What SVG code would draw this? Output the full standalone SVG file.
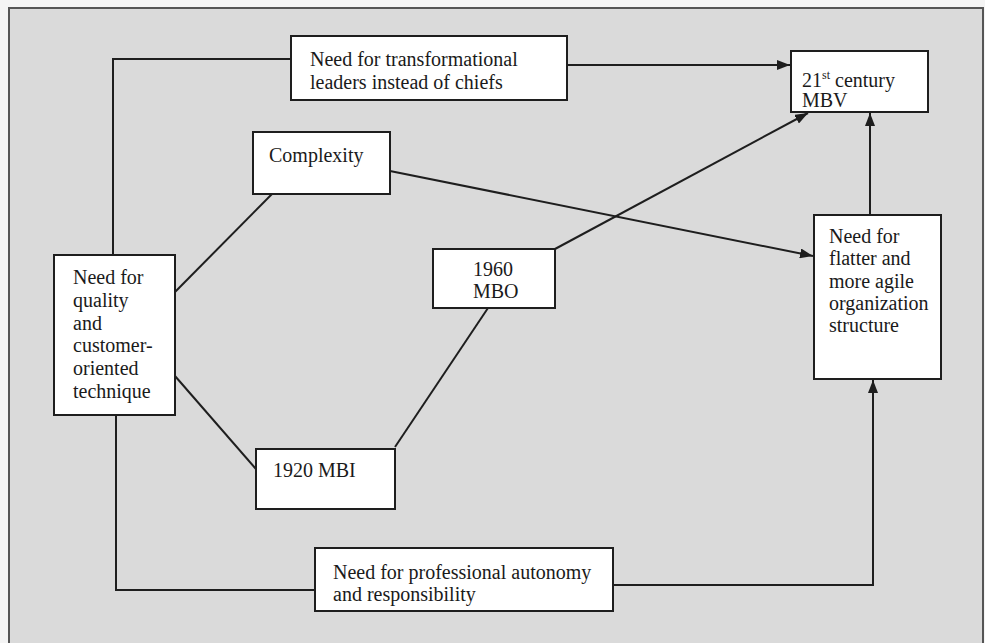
<svg xmlns="http://www.w3.org/2000/svg" width="985" height="643" viewBox="0 0 985 643">
<style>
.box{fill:#ffffff;stroke:#1e1e1e;stroke-width:2}
.t{font-family:"Liberation Serif","Times New Roman",serif;font-size:20px;fill:#1a1a1a}
.c{fill:none;stroke:#1e1e1e;stroke-width:2}
</style>
<defs>
<marker id="ah" markerUnits="userSpaceOnUse" markerWidth="14" markerHeight="10" refX="13" refY="5" orient="auto">
<path d="M0,0 L13,5 L0,10 z" fill="#1e1e1e"/>
</marker>
</defs>
<rect x="0" y="0" width="985" height="643" fill="#f4f4f4"/>
<rect x="9" y="8" width="974" height="660" fill="#dadada" stroke="#555" stroke-width="2"/>
<g id="connectors">
<polyline class="c" points="291,59 113,59 113,255"/>
<line class="c" x1="567" y1="65" x2="790" y2="65" marker-end="url(#ah)"/>
<line class="c" x1="272" y1="194" x2="175" y2="292"/>
<line class="c" x1="390" y1="171" x2="813" y2="256" marker-end="url(#ah)"/>
<line class="c" x1="555" y1="249" x2="808" y2="113" marker-end="url(#ah)"/>
<line class="c" x1="870" y1="215" x2="870" y2="113" marker-end="url(#ah)"/>
<line class="c" x1="175" y1="376" x2="256" y2="469"/>
<line class="c" x1="395" y1="447" x2="488" y2="308"/>
<polyline class="c" points="116,415 116,590 315,590"/>
<polyline class="c" points="613,585 873,585 873,380" marker-end="url(#ah)"/>
</g>
<g id="transformational">
<rect class="box" x="291" y="36" width="276" height="64"/>
<text class="t" x="310" y="66">Need for transformational</text>
<text class="t" x="310" y="89">leaders instead of chiefs</text>
</g>
<g id="mbv">
<rect class="box" x="791" y="51" width="137" height="61"/>
<text class="t" x="802" y="87">21<tspan font-size="12" dy="-8">st</tspan><tspan dy="8"> century</tspan></text>
<text class="t" x="802" y="107">MBV</text>
</g>
<g id="complexity">
<rect class="box" x="253" y="132" width="137" height="62"/>
<text class="t" x="269" y="162">Complexity</text>
</g>
<g id="quality">
<rect class="box" x="54" y="255" width="121" height="160"/>
<text class="t" x="73" y="284">Need for</text>
<text class="t" x="73" y="307">quality</text>
<text class="t" x="73" y="330">and</text>
<text class="t" x="73" y="352">customer-</text>
<text class="t" x="73" y="375">oriented</text>
<text class="t" x="73" y="398">technique</text>
</g>
<g id="mbo">
<rect class="box" x="433" y="249" width="122" height="59"/>
<text class="t" x="473" y="276">1960</text>
<text class="t" x="473" y="298">MBO</text>
</g>
<g id="flatter">
<rect class="box" x="814" y="215" width="127" height="164"/>
<text class="t" x="829" y="243">Need for</text>
<text class="t" x="829" y="265">flatter and</text>
<text class="t" x="829" y="288">more agile</text>
<text class="t" x="829" y="310">organization</text>
<text class="t" x="829" y="332">structure</text>
</g>
<g id="mbi">
<rect class="box" x="256" y="449" width="139" height="60"/>
<text class="t" x="273" y="477">1920 MBI</text>
</g>
<g id="professional">
<rect class="box" x="315" y="548" width="298" height="63"/>
<text class="t" x="333" y="579">Need for professional autonomy</text>
<text class="t" x="333" y="601">and responsibility</text>
</g>
</svg>
